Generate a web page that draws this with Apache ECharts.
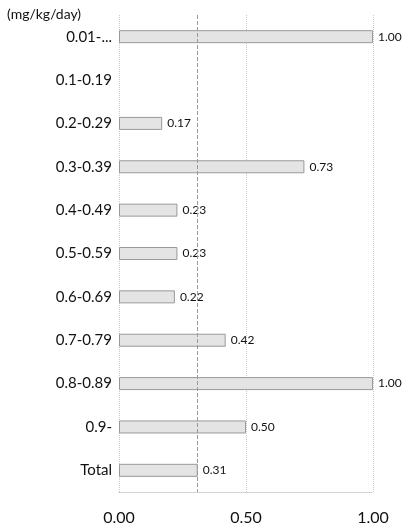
<!DOCTYPE html>
<html>
<head>
<meta charset="utf-8">
<script src="https://cdn.jsdelivr.net/npm/echarts@6/dist/echarts.min.js"></script>
<style>
  html, body { margin: 0; padding: 0; background: #fff; }
  #chart { width: 404px; height: 531px; }
</style>
</head>
<body>
<div id="chart"></div>
<script>
// dose groups, top to bottom
var categories = ['0.01-...', '0.1-0.19', '0.2-0.29', '0.3-0.39', '0.4-0.49', '0.5-0.59',
                  '0.6-0.69', '0.7-0.79', '0.8-0.89', '0.9-', 'Total'];
var values = [1.00, null, 0.17, 0.73, 0.23, 0.23, 0.22, 0.42, 1.00, 0.50, 0.31];
var totalLine = 0.31;
var xTicks = [0, 0.5, 1.0];

var myChart = echarts.init(document.getElementById('chart'));

var option = {
    animation: false,
    textStyle: { fontFamily: 'Lato' },
    grid: { left: 119, right: 31, top: 15, bottom: 39 },
    graphic: [{
        type: 'text',
        left: 7,
        top: 7,
        style: { text: '(mg/kg/day)', fontSize: 14, fontFamily: 'Lato', fill: '#111' }
    }],
    xAxis: {
        type: 'value',
        min: xTicks[0],
        max: xTicks[xTicks.length - 1],
        interval: 0.5,
        axisLine: { show: true, lineStyle: { color: '#c8c8c8', type: 'dotted' } },
        axisTick: { show: false },
        axisLabel: {
            fontSize: 16,
            color: '#111',
            margin: 18,
            formatter: function (v) { return v.toFixed(2); }
        },
        splitLine: { show: true, lineStyle: { color: '#c8c8c8', type: 'dotted' } }
    },
    yAxis: {
        type: 'category',
        inverse: true,
        data: categories,
        axisLine: { show: false },
        axisTick: { show: false },
        axisLabel: { fontSize: 15, color: '#111', margin: 7 },
        splitLine: { show: false }
    },
    series: [{
        type: 'bar',
        data: values,
        barWidth: 13,
        itemStyle: { color: '#e4e4e4', borderColor: '#999', borderWidth: 1 },
        label: {
            show: true,
            position: 'right',
            distance: 5,
            fontSize: 12,
            color: '#111',
            formatter: function (p) { return p.value == null ? '' : p.value.toFixed(2); }
        },
        markLine: {
            symbol: 'none',
            silent: true,
            label: { show: false },
            lineStyle: { color: '#999', type: 'dashed', width: 1 },
            data: [{ xAxis: totalLine }]
        }
    }]
};

myChart.setOption(option);
</script>
</body>
</html>
